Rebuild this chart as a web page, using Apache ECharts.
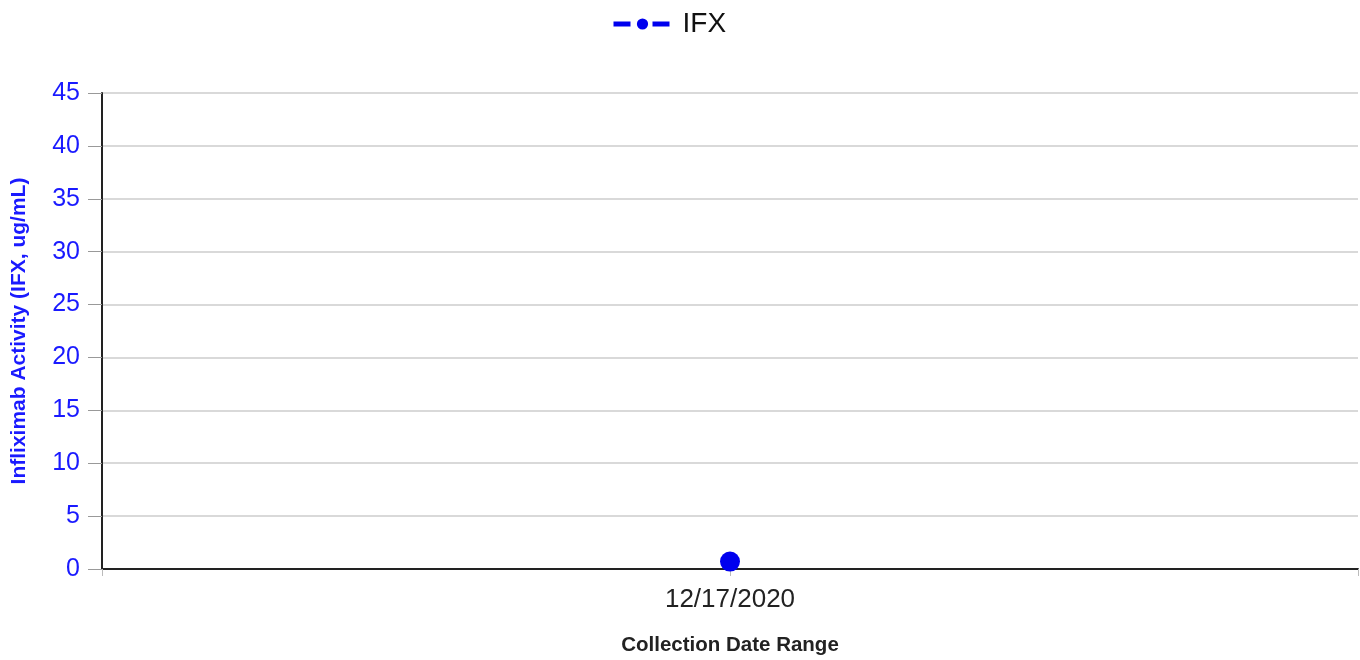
<!DOCTYPE html>
<html>
<head>
<meta charset="utf-8">
<script src="https://cdn.jsdelivr.net/npm/echarts@6/dist/echarts.min.js"></script>
<style>
  html, body { margin: 0; padding: 0; background: #fff; }
  #chart { width: 1360px; height: 660px; }
</style>
</head>
<body>
<div id="chart"></div>
<script>
// data
var dates = ["12/17/2020"];
var ifxValues = [0.7];
var yTicks = [0, 5, 10, 15, 20, 25, 30, 35, 40, 45];

// pad one empty slot each side so ticks fall on both edges and under the point
var cats = [""].concat(dates, [""]);
var vals = [null].concat(ifxValues, [null]);

var myChart = echarts.init(document.getElementById("chart"));
myChart.setOption({
  animation: false,
  textStyle: { fontFamily: "Liberation Sans, Arial, sans-serif" },
  legend: {
    top: 5,
    left: 606,
    itemWidth: 58,
    itemHeight: 14,
    itemGap: 14,
    lineStyle: { width: 5 },
    textStyle: { fontSize: 28, color: "#111", padding: [0, 0, 0, 6] },
    data: ["IFX"]
  },
  grid: { left: 102, right: 2, top: 93, bottom: 91, outerBoundsMode: "none", containLabel: false },
  xAxis: {
    type: "category",
    data: cats,
    boundaryGap: false,
    name: "Collection Date Range",
    nameLocation: "middle",
    nameGap: 66,
    nameTextStyle: { fontSize: 20.5, fontWeight: "bold", color: "#222" },
    axisLine: { lineStyle: { color: "#222", width: 2 } },
    axisTick: { show: true, length: 7, lineStyle: { color: "#bbb", width: 1 } },
    axisLabel: { fontSize: 26, color: "#222", margin: 18 },
    splitLine: { show: false }
  },
  yAxis: {
    type: "value",
    min: yTicks[0],
    max: yTicks[yTicks.length - 1],
    interval: 5,
    name: "Infliximab Activity (IFX, ug/mL)",
    nameLocation: "middle",
    nameGap: 72,
    nameTextStyle: { fontSize: 21, fontWeight: "bold", color: "#1a1aff" },
    axisLine: { show: true, lineStyle: { color: "#222", width: 2 } },
    axisTick: { show: true, length: 14, lineStyle: { color: "#999", width: 1 } },
    axisLabel: { fontSize: 25, color: "#1a1aff", margin: 22 },
    splitLine: { lineStyle: { color: "#d9d9d9", width: 2 } }
  },
  series: [
    {
      name: "IFX",
      type: "line",
      data: vals,
      symbol: "circle",
      symbolSize: 20,
      itemStyle: { color: "#0000ee" },
      lineStyle: { color: "#0000ee", width: 5, type: [17, 22] }
    }
  ]
});
</script>
</body>
</html>
